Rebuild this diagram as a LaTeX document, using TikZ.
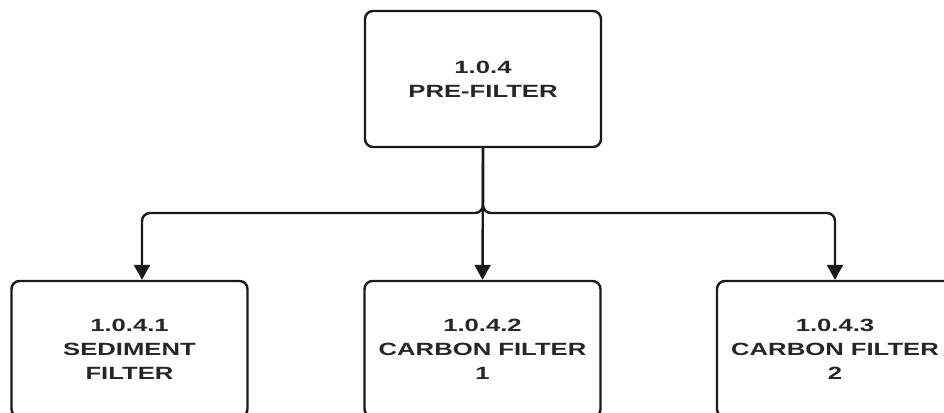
\documentclass[tikz,border=0pt]{standalone}
\usepackage{fontspec}
\setmainfont[FakeStretch=1.45]{Liberation Sans}
\usetikzlibrary{arrows.meta,positioning,calc}
\tikzset{
  box/.style={draw=black!90,line width=2.4pt,rounded corners=8pt,fill=white,
    minimum width=236pt,minimum height=136pt,inner sep=0pt,align=center,
    font=\fontsize{17.7}{24}\selectfont\bfseries,text=black!85},
  conn/.style={draw=black!90,line width=2.4pt,rounded corners=8pt,
    -{Triangle[length=15pt,width=16pt]}}
}
\begin{document}
\begin{tikzpicture}[x=1pt,y=-1pt]
\useasboundingbox (0,0) rectangle (944,412);
% 上层方框
\node[box] (pre) at (483,79) {1.0.4\\PRE-FILTER};
% 下层三个方框
\node[box] (sed) at (129.5,349) {1.0.4.1\\SEDIMENT\\FILTER};
\node[box] (cf1) at (482.5,349) {1.0.4.2\\CARBON FILTER\\1};
\node[box] (cf2) at (835,349) {1.0.4.3\\CARBON FILTER\\2};
% 分岔点与箭头落点
\coordinate (split) at (483,213);
\coordinate (sedin) at ($(sed.north)+(12.5,0)$);
% 连线
\draw[conn] (pre.south) -- (split) -| (sedin);
\draw[conn] (pre.south) -- (cf1.north);
\draw[conn] (pre.south) -- (split) -| (cf2.north);
\end{tikzpicture}
\end{document}
